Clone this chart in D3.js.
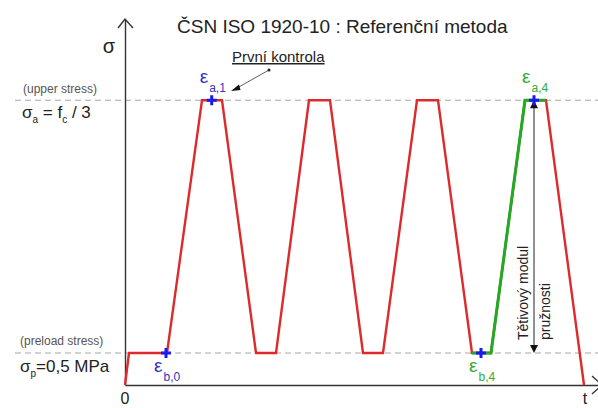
<!DOCTYPE html>
<html>
<head>
<meta charset="utf-8">
<script src="https://cdn.jsdelivr.net/npm/d3@7"></script>
<style>
  body { margin: 0; background: #fff; }
  text { font-family: "Liberation Sans", Arial, sans-serif; }
</style>
</head>
<body>
<div id="wrapper"></div>
<script>
// loading history (time in arbitrary units, stress in MPa)
const sigmaP = 0.5
const sigmaA = 4.45
const times = [0, 4, 42, 77, 97, 131, 151, 184, 205, 238, 258, 292, 313, 347, 366, 400, 421, 459]
const stress = [0, sigmaP, sigmaP, sigmaA, sigmaA, sigmaP, sigmaP, sigmaA, sigmaA, sigmaP, sigmaP, sigmaA, sigmaA, sigmaP, sigmaP, sigmaA, sigmaA, 0]
const greenFrom = 13, greenTo = 16   // last cycle used for the modulus

// measured strain points
const markTimes = [41, 86.7, 356, 409]
const markStress = [sigmaP, sigmaA, sigmaP, sigmaA]
const markNames = ["b,0", "a,1", "b,4", "a,4"]
const markColors = ["#3333bb", "#3333bb", "#33aa33", "#33aa33"]
const markAbove = [false, true, false, true]

const tMax = 477
const sMax = 5.72

const dimensions = { width: 598, height: 408 }

const wrapper = d3.select("#wrapper")
    .append("svg")
    .attr("width", dimensions.width)
    .attr("height", dimensions.height)

const xScale = d3.scaleLinear().domain([0, tMax]).range([125, 602])
const yScale = d3.scaleLinear().domain([0, sMax]).range([385, 19])

const pts = times.map((t, i) => ({ t: t, s: stress[i] }))
const line = d3.line().x(d => xScale(d.t)).y(d => yScale(d.s))

// dashed stress levels
wrapper.selectAll(".level")
    .data([sigmaA, sigmaP])
    .enter().append("line")
    .attr("x1", 15).attr("x2", 598)
    .attr("y1", d => yScale(d)).attr("y2", d => yScale(d))
    .attr("stroke", "#a8a8a8")
    .attr("stroke-width", 1.2)
    .attr("stroke-dasharray", "6 4")

// axes
const xAxis = wrapper.append("g")
    .attr("transform", `translate(0,${yScale(0)})`)
    .call(d3.axisBottom(xScale).tickValues([]).tickSizeOuter(0))
const yAxis = wrapper.append("g")
    .attr("transform", `translate(${xScale(0)},0)`)
    .call(d3.axisLeft(yScale).tickValues([]).tickSizeOuter(0))
wrapper.selectAll(".domain").attr("stroke", "#333").attr("stroke-width", 1.4)

// open arrow heads on axes
const ax0 = xScale(0), ay0 = yScale(0), axTop = yScale(sMax), axRight = xScale(tMax)
wrapper.append("path")
    .attr("d", `M${ax0 - 7},${axTop + 9}L${ax0},${axTop}L${ax0 + 8},${axTop + 9}`)
    .attr("fill", "none").attr("stroke", "#333").attr("stroke-width", 1.4)
wrapper.append("path")
    .attr("d", `M${axRight - 10},${ay0 - 9}L${axRight},${ay0}L${axRight - 10},${ay0 + 9}`)
    .attr("fill", "none").attr("stroke", "#333").attr("stroke-width", 1.4)

// loading path
wrapper.append("path")
    .datum(pts)
    .attr("d", line)
    .attr("fill", "none")
    .attr("stroke", "#dd2a2a")
    .attr("stroke-width", 2.4)
    .attr("stroke-linejoin", "miter")

wrapper.append("path")
    .datum(pts.slice(greenFrom, greenTo + 1))
    .attr("d", line)
    .attr("fill", "none")
    .attr("stroke", "#22aa22")
    .attr("stroke-width", 3)

// double arrow for the modulus
const mx = xScale(markTimes[3])
wrapper.append("line")
    .attr("x1", mx).attr("x2", mx)
    .attr("y1", yScale(sigmaA) + 4).attr("y2", yScale(sigmaP) - 4)
    .attr("stroke", "#222").attr("stroke-width", 1)
wrapper.append("path")
    .attr("d", `M${mx},${yScale(sigmaA)}L${mx - 4},${yScale(sigmaA) + 8}L${mx + 4},${yScale(sigmaA) + 8}Z`)
    .attr("fill", "#111")
wrapper.append("path")
    .attr("d", `M${mx},${yScale(sigmaP)}L${mx - 4},${yScale(sigmaP) - 8}L${mx + 4},${yScale(sigmaP) - 8}Z`)
    .attr("fill", "#111")

wrapper.append("text")
    .attr("transform", `translate(${mx - 6},340) rotate(-90)`)
    .attr("font-size", "14px").attr("fill", "#222")
    .text("Tětivový modul")
wrapper.append("text")
    .attr("transform", `translate(${mx + 16},340) rotate(-90)`)
    .attr("font-size", "14px").attr("fill", "#222")
    .text("pružnosti")

// cross markers
const marks = markTimes.map((t, i) => ({ t: t, s: markStress[i], name: markNames[i], color: markColors[i], above: markAbove[i] }))
const markG = wrapper.selectAll(".mark")
    .data(marks)
    .enter().append("g")
    .attr("transform", d => `translate(${xScale(d.t)},${yScale(d.s)})`)
markG.append("path")
    .attr("d", "M-5,0H5M0,-5V5")
    .attr("stroke", "#1a1aee")
    .attr("stroke-width", 3)

const epsLabel = markG.append("text")
    .attr("x", -12)
    .attr("y", d => d.above ? -17 : 19)
    .attr("fill", d => d.color)
epsLabel.append("tspan")
    .attr("font-size", "19px")
    .text("ε")
epsLabel.append("tspan")
    .attr("font-size", "12px")
    .attr("dy", 9)
    .attr("dx", 1)
    .text(d => d.name)

// title
wrapper.append("text")
    .attr("x", 177).attr("y", 33)
    .attr("font-size", "19px").attr("fill", "#222")
    .text("ČSN ISO 1920-10 : Referenční metoda")

// axis labels
wrapper.append("text")
    .attr("x", 109).attr("y", 53)
    .attr("text-anchor", "middle")
    .attr("font-size", "20px").attr("fill", "#222")
    .text("σ")
wrapper.append("text")
    .attr("x", xScale(0)).attr("y", 404)
    .attr("text-anchor", "middle")
    .attr("font-size", "16px").attr("fill", "#222")
    .text("0")
wrapper.append("text")
    .attr("x", 585).attr("y", 404)
    .attr("text-anchor", "middle")
    .attr("font-size", "16px").attr("fill", "#222")
    .text("t")

// level labels
wrapper.append("text")
    .attr("x", 23).attr("y", 93)
    .attr("font-size", "12px").attr("fill", "#555")
    .text("(upper stress)")
wrapper.append("text")
    .attr("x", 20).attr("y", 345)
    .attr("font-size", "12px").attr("fill", "#555")
    .text("(preload stress)")

const upper = wrapper.append("text")
    .attr("x", 22).attr("y", 118)
    .attr("font-size", "17px").attr("fill", "#222")
upper.append("tspan").text("σ")
upper.append("tspan").attr("font-size", "10px").attr("dy", 5).text("a")
upper.append("tspan").attr("dy", -5).text(" = f")
upper.append("tspan").attr("font-size", "10px").attr("dy", 5).text("c")
upper.append("tspan").attr("dy", -5).text(" / 3")

const lower = wrapper.append("text")
    .attr("x", 20).attr("y", 372)
    .attr("font-size", "17px").attr("fill", "#222")
lower.append("tspan").text("σ")
lower.append("tspan").attr("font-size", "10px").attr("dy", 5).text("p")
lower.append("tspan").attr("dy", -5).text("=0,5 MPa")

// annotation "První kontrola"
wrapper.append("text")
    .attr("x", 232).attr("y", 62)
    .attr("font-size", "15px").attr("fill", "#222")
    .attr("text-decoration", "underline")
    .text("První kontrola")
wrapper.append("line")
    .attr("x1", 269).attr("y1", 70)
    .attr("x2", 237).attr("y2", 88)
    .attr("stroke", "#333").attr("stroke-width", 0.8)
wrapper.append("circle")
    .attr("cx", 269).attr("cy", 70).attr("r", 1.5).attr("fill", "#222")
wrapper.append("path")
    .attr("d", "M231,91L239,84.5L240.5,90Z")
    .attr("fill", "#111")
</script>
</body>
</html>
